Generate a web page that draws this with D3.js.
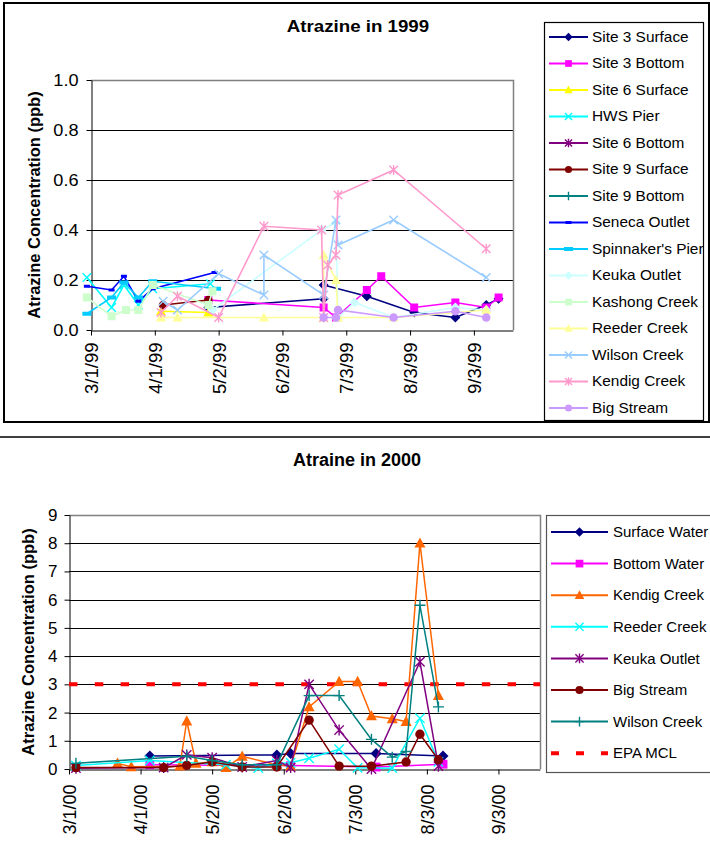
<!DOCTYPE html>
<html>
<head>
<meta charset="utf-8">
<script src="https://cdn.jsdelivr.net/npm/d3@7"></script>
<style>
  body { margin: 0; background: #fff; }
  svg { display: block; font-family: "Liberation Sans", Arial, sans-serif; }
</style>
</head>
<body>
<svg id="chart" width="710" height="860"></svg>
<script>
// ---- 1999 samples: [date, ppb]
const site3Surface99 = [['4/27/99', 0.09], ['6/22/99', 0.125], ['6/22/99', 0.18], ['7/13/99', 0.135], ['8/5/99', 0.07], ['8/25/99', 0.05], ['9/9/99', 0.1], ['9/15/99', 0.125]];
const site3Bottom99 = [['4/27/99', 0.12], ['6/22/99', 0.09], ['6/28/99', 0.05], ['7/13/99', 0.16], ['7/20/99', 0.215], ['8/5/99', 0.09], ['8/25/99', 0.11], ['9/9/99', 0.09], ['9/15/99', 0.13]];
const site6Surface99 = [['4/4/99', 0.075], ['4/27/99', 0.07]];
const hwsPier99 = [['2/27/99', 0.21], ['3/11/99', 0.09], ['3/17/99', 0.18], ['3/24/99', 0.1], ['3/31/99', 0.165], ['4/28/99', 0.185]];
const site6Bottom99 = [];
const site9Surface99 = [['4/5/99', 0.1], ['4/27/99', 0.12]];
const site9Bottom99 = [];
const senecaOutlet99 = [['2/27/99', 0.175], ['3/11/99', 0.16], ['3/17/99', 0.215], ['3/24/99', 0.115], ['3/31/99', 0.165], ['4/30/99', 0.23]];
const spinnakersPier99 = [['2/27/99', 0.065], ['3/11/99', 0.13], ['3/17/99', 0.19], ['3/24/99', 0.13], ['3/31/99', 0.195], ['5/1/99', 0.165]];
const keukaOutlet99 = [['4/29/99', 0.08], ['6/21/99', 0.4], ['6/28/99', 0.43], ['6/29/99', 0.05], ['7/7/99', 0.11], ['7/26/99', 0.05], ['8/25/99', 0.09], ['9/9/99', 0.08]];
const kashongCreek99 = [['2/27/99', 0.13], ['3/11/99', 0.055], ['3/18/99', 0.08], ['3/24/99', 0.08], ['3/31/99', 0.18], ['4/27/99', 0.1], ['4/29/99', 0.155]];
const reederCreek99 = [['4/4/99', 0.05], ['4/12/99', 0.05], ['5/24/99', 0.05], ['6/22/99', 0.05], ['6/22/99', 0.3], ['6/28/99', 0.2], ['6/29/99', 0.05], ['7/26/99', 0.05], ['9/9/99', 0.08]];
const wilsonCreek99 = [['4/5/99', 0.115], ['4/12/99', 0.08], ['5/2/99', 0.225], ['5/24/99', 0.14], ['5/24/99', 0.3], ['6/22/99', 0.14], ['6/28/99', 0.44], ['6/29/99', 0.34], ['7/26/99', 0.44], ['9/9/99', 0.21]];
const kendigCreek99 = [['4/4/99', 0.07], ['4/12/99', 0.135], ['5/2/99', 0.05], ['5/24/99', 0.415], ['6/21/99', 0.4], ['6/22/99', 0.05], ['6/24/99', 0.26], ['6/28/99', 0.3], ['6/29/99', 0.54], ['7/26/99', 0.64], ['9/9/99', 0.325]];
const bigStream99 = [['6/22/99', 0.05], ['6/28/99', 0.05], ['6/29/99', 0.08], ['7/26/99', 0.05], ['8/25/99', 0.075], ['9/9/99', 0.05]];

const names99 = ['Site 3 Surface', 'Site 3 Bottom', 'Site 6 Surface', 'HWS Pier', 'Site 6 Bottom', 'Site 9 Surface', 'Site 9 Bottom',
  'Seneca Outlet', "Spinnaker's Pier", 'Keuka Outlet', 'Kashong Creek', 'Reeder Creek', 'Wilson Creek', 'Kendig Creek', 'Big Stream'];
const values99 = [site3Surface99, site3Bottom99, site6Surface99, hwsPier99, site6Bottom99, site9Surface99, site9Bottom99,
  senecaOutlet99, spinnakersPier99, keukaOutlet99, kashongCreek99, reederCreek99, wilsonCreek99, kendigCreek99, bigStream99];
const colors99 = ['#000080', '#ff00ff', '#ffff00', '#00ffff', '#800080', '#800000', '#008080',
  '#0000ff', '#00ccff', '#ccffff', '#ccffcc', '#ffff99', '#99ccff', '#ff99cc', '#cc99ff'];
const shapes99 = ['diamond', 'square', 'triangle', 'x', 'star', 'circle', 'plus',
  'dash', 'longdash', 'diamond', 'square', 'triangle', 'x', 'star', 'circle'];
const ticks99 = ['3/1/99', '4/1/99', '5/2/99', '6/2/99', '7/3/99', '8/3/99', '9/3/99'];
const yTicks99 = [0, 0.2, 0.4, 0.6, 0.8, 1.0];

// ---- 2000 samples
const surfaceWater00 = [['4/5/00', 0.46], ['5/30/00', 0.5], ['6/5/00', 0.55], ['7/12/00', 0.55], ['8/10/00', 0.46]];
const bottomWater00 = [['4/5/00', 0.15], ['6/5/00', 0.12], ['7/12/00', 0.07], ['8/10/00', 0.17]];
const kendigCreek00 = [['3/22/00', 0.2], ['3/28/00', 0.08], ['4/18/00', 0.1], ['4/21/00', 1.7], ['4/25/00', 0.2], ['5/2/00', 0.25], ['5/8/00', 0.05], ['5/15/00', 0.45], ['5/30/00', 0.15], ['6/5/00', 0.1], ['6/13/00', 2.2], ['6/26/00', 3.1], ['7/4/00', 3.1], ['7/10/00', 1.88], ['7/19/00', 1.78], ['7/25/00', 1.68], ['7/31/00', 8.0], ['8/8/00', 2.6]];
const reederCreek00 = [['3/4/00', 0.12], ['4/5/00', 0.3], ['5/8/00', 0.15], ['5/22/00', 0.03], ['5/30/00', 0.2], ['6/5/00', 0.22], ['6/13/00', 0.38], ['6/26/00', 0.7], ['7/4/00', 0.04], ['7/19/00', 0.03], ['7/31/00', 1.8], ['8/8/00', 0.25]];
const keukaOutlet00 = [['3/4/00', 0.03], ['4/11/00', 0.05], ['4/21/00', 0.5], ['5/2/00', 0.4], ['5/15/00', 0.07], ['5/30/00', 0.3], ['6/5/00', 0.05], ['6/13/00', 3.0], ['6/26/00', 1.38], ['7/10/00', 0.0], ['7/31/00', 3.8], ['8/8/00', 0.1]];
const bigStream00 = [['3/4/00', 0.05], ['4/11/00', 0.05], ['4/21/00', 0.13], ['5/2/00', 0.25], ['5/15/00', 0.07], ['5/30/00', 0.07], ['6/13/00', 1.73], ['6/26/00', 0.1], ['7/10/00', 0.1], ['7/25/00', 0.25], ['7/31/00', 1.23], ['8/8/00', 0.33]];
const wilsonCreek00 = [['3/4/00', 0.2], ['4/21/00', 0.45], ['5/2/00', 0.3], ['5/15/00', 0.15], ['5/30/00', 0.15], ['6/13/00', 2.6], ['6/26/00', 2.6], ['7/10/00', 1.05], ['7/19/00', 0.42], ['7/25/00', 0.62], ['7/31/00', 5.8], ['8/8/00', 2.2]];
const epaMcl = 3;

const names00 = ['Surface Water', 'Bottom Water', 'Kendig Creek', 'Reeder Creek', 'Keuka Outlet', 'Big Stream', 'Wilson Creek'];
const values00 = [surfaceWater00, bottomWater00, kendigCreek00, reederCreek00, keukaOutlet00, bigStream00, wilsonCreek00];
const colors00 = ['#000080', '#ff00ff', '#ff6600', '#00ffff', '#800080', '#800000', '#008080'];
const shapes00 = ['diamond', 'square', 'triangle', 'x', 'star', 'circle', 'plus'];
const ticks00 = ['3/1/00', '4/1/00', '5/2/00', '6/2/00', '7/3/00', '8/3/00', '9/3/00'];
const yTicks00 = [0, 1, 2, 3, 4, 5, 6, 7, 8, 9];

const parse = d3.timeParse('%m/%d/%y');
const svg = d3.select('#chart');

function drawMarker(g, shape, color, s) {
  if (shape === 'diamond') {
    g.append('path').attr('d', `M0,${-s}L${s},0L0,${s}L${-s},0Z`).attr('fill', color);
  } else if (shape === 'square') {
    g.append('rect').attr('x', -s * 0.8).attr('y', -s * 0.8).attr('width', s * 1.6).attr('height', s * 1.6).attr('fill', color);
  } else if (shape === 'triangle') {
    g.append('path').attr('d', `M0,${-s * 1.05}L${s},${s * 0.8}L${-s},${s * 0.8}Z`).attr('fill', color);
  } else if (shape === 'circle') {
    g.append('circle').attr('r', s * 0.85).attr('fill', color);
  } else if (shape === 'dash') {
    g.append('rect').attr('x', -3).attr('y', -1.5).attr('width', 6).attr('height', 3).attr('fill', color);
  } else if (shape === 'longdash') {
    g.append('rect').attr('x', -4.5).attr('y', -2).attr('width', 9).attr('height', 4).attr('fill', color);
  } else {
    let d = '';
    const a = s * 0.85;
    if (shape === 'x' || shape === 'star') d += `M${-a},${-a}L${a},${a}M${-a},${a}L${a},${-a}`;
    if (shape === 'star') d += `M0,${-s}L0,${s}`;
    if (shape === 'plus') d += `M${-s},0L${s},0M0,${-s}L0,${s}`;
    g.append('path').attr('d', d).attr('stroke', color).attr('stroke-width', 1.4).attr('fill', 'none');
  }
}

function drawChart(c) {
  const x = d3.scaleTime().domain(c.xDomain).range([c.left, c.right]);
  const y = d3.scaleLinear().domain(c.yDomain).range([c.bottom, c.top]);
  const g = svg.append('g');

  // gridlines
  g.selectAll('.grid').data(c.yTicks.slice(1, -1)).enter().append('line')
    .attr('x1', c.left).attr('x2', c.right)
    .attr('y1', d => Math.round(y(d)) + 0.5).attr('y2', d => Math.round(y(d)) + 0.5)
    .attr('stroke', '#000').attr('stroke-width', 1);

  // plot area border (top + right)
  g.append('path')
    .attr('d', `M${c.left},${c.top + 0.5}H${c.right + 0.5}V${c.bottom}`)
    .attr('fill', 'none').attr('stroke', '#808080').attr('stroke-width', 1.5);

  // y axis
  const yAxis = g.append('g').attr('transform', `translate(${c.left + 0.5},0)`)
    .call(d3.axisLeft(y).tickValues(c.yTicks).tickFormat(c.yFormat).tickSize(5).tickSizeOuter(0).tickPadding(c.yPad));
  yAxis.selectAll('path, line').attr('stroke', '#000');
  yAxis.selectAll('text').attr('font-size', c.tickFont).attr('fill', '#000')
    .attr('transform', c.stretch !== 1 ? function () {
      const tx = +d3.select(this).attr('x');
      return `translate(${tx},0) scale(${c.stretch},1) translate(${-tx},0)`;
    } : null);

  // x axis
  const xAxis = g.append('g').attr('transform', `translate(0,${c.bottom + 0.5})`)
    .call(d3.axisBottom(x).tickValues(c.xTicks.map(parse)).tickFormat(d3.timeFormat('%-m/%-d/%y')).tickSize(5).tickSizeOuter(0));
  xAxis.selectAll('path, line').attr('stroke', '#000');
  xAxis.selectAll('text')
    .attr('font-size', c.xTickFont).attr('fill', '#000')
    .attr('transform', 'rotate(-90)')
    .attr('x', -c.xLabelGap).attr('y', 0).attr('dy', '0.35em')
    .style('text-anchor', 'end');

  // reference line
  if (c.refLine != null) {
    g.append('line')
      .attr('x1', c.left).attr('x2', c.right)
      .attr('y1', y(c.refLine)).attr('y2', y(c.refLine))
      .attr('stroke', '#ff0000').attr('stroke-width', 4).attr('stroke-dasharray', '8.5,17.3');
  }

  // series
  const line = d3.line().x(d => x(parse(d[0]))).y(d => y(d[1]));
  c.values.forEach((vals, i) => {
    if (!vals.length) return;
    g.append('path').datum(vals)
      .attr('d', line).attr('fill', 'none')
      .attr('stroke', c.colors[i]).attr('stroke-width', c.lineWidth);
    g.selectAll(null).data(vals).enter().append('g')
      .attr('transform', d => `translate(${x(parse(d[0]))},${y(d[1])})`)
      .each(function () { drawMarker(d3.select(this), c.shapes[i], c.colors[i], c.markerSize); });
  });

  // title
  svg.append('text')
    .attr('transform', `translate(${c.titleX},${c.titleY}) scale(${c.stretch},1)`)
    .attr('text-anchor', 'middle').attr('font-size', c.titleFont).attr('font-weight', 'bold')
    .text(c.title);

  // y axis title
  svg.append('text')
    .attr('transform', `translate(${c.yTitleX},${(c.top + c.bottom) / 2}) rotate(-90)`)
    .attr('text-anchor', 'middle').attr('font-size', 16.5).attr('font-weight', 'bold')
    .text('Atrazine Concentration (ppb)');

  // legend
  const lg = svg.append('g');
  lg.append('rect')
    .attr('x', c.legend.x + 0.5).attr('y', c.legend.y + 0.5)
    .attr('width', c.legend.w).attr('height', c.legend.h)
    .attr('fill', '#fff').attr('stroke', c.legend.stroke).attr('stroke-width', 1.2);
  const items = c.names.map((n, i) => ({ name: n, color: c.colors[i], shape: c.shapes[i] }));
  if (c.refLine != null) items.push({ name: c.refName, color: '#ff0000', shape: 'ref' });
  items.forEach((it, i) => {
    const cy = c.legend.first + i * c.legend.step;
    const row = lg.append('g').attr('transform', `translate(0,${cy})`);
    if (it.shape === 'ref') {
      row.append('line').attr('x1', c.legend.lx1).attr('x2', c.legend.lx2)
        .attr('stroke', it.color).attr('stroke-width', 4).attr('stroke-dasharray', '8,17');
    } else {
      row.append('line').attr('x1', c.legend.lx1).attr('x2', c.legend.lx2)
        .attr('stroke', it.color).attr('stroke-width', 2);
      const m = row.append('g').attr('transform', `translate(${(c.legend.lx1 + c.legend.lx2) / 2},0)`);
      drawMarker(m, it.shape, it.color, c.legend.marker);
    }
    row.append('text')
      .attr('transform', `translate(${c.legend.tx},0) scale(${c.stretch},1)`)
      .attr('dy', '0.35em').attr('font-size', c.legend.font).attr('fill', '#000')
      .text(it.name);
  });
}

// frames
svg.append('rect').attr('x', 4).attr('y', 3).attr('width', 705).attr('height', 419)
  .attr('fill', 'none').attr('stroke', '#000').attr('stroke-width', 2);
svg.append('line').attr('x1', 0).attr('x2', 710).attr('y1', 437).attr('y2', 437)
  .attr('stroke', '#000').attr('stroke-width', 1.5);

drawChart({
  title: 'Atrazine in 1999', titleX: 358, titleY: 32, titleFont: 17,
  stretch: 1.1,
  left: 91, right: 513, top: 80, bottom: 330,
  xDomain: [parse('3/1/99'), d3.timeDay.offset(parse('3/1/99'), 205)],
  yDomain: [0, 1], yTicks: yTicks99, yFormat: d3.format('.1f'), yPad: 8,
  xTicks: ticks99, tickFont: 16.5, xTickFont: 18.5, xLabelGap: 12,
  yTitleX: 40,
  values: values99, names: names99, colors: colors99, shapes: shapes99,
  lineWidth: 1.6, markerSize: 5,
  legend: { x: 544, y: 22, w: 159, h: 398, stroke: '#000', first: 37, step: 26.5,
    lx1: 549, lx2: 588, tx: 592, font: 14, marker: 4.2 }
});

drawChart({
  title: 'Atraine in 2000', titleX: 357, titleY: 466, titleFont: 18,
  stretch: 1,
  left: 69, right: 540, top: 515, bottom: 769,
  xDomain: [parse('3/1/00'), d3.timeDay.offset(parse('3/1/00'), 204)],
  yDomain: [0, 9], yTicks: yTicks00, yFormat: d3.format('d'), yPad: 7,
  xTicks: ticks00, tickFont: 17, xTickFont: 18, xLabelGap: 15,
  yTitleX: 34,
  values: values00, names: names00, colors: colors00, shapes: shapes00,
  lineWidth: 1.5, markerSize: 5.5,
  refLine: epaMcl, refName: 'EPA MCL',
  legend: { x: 546, y: 515, w: 190, h: 257, stroke: '#555', first: 532, step: 31.6,
    lx1: 551, lx2: 608, tx: 613, font: 15, marker: 4.8 }
});
</script>
</body>
</html>
